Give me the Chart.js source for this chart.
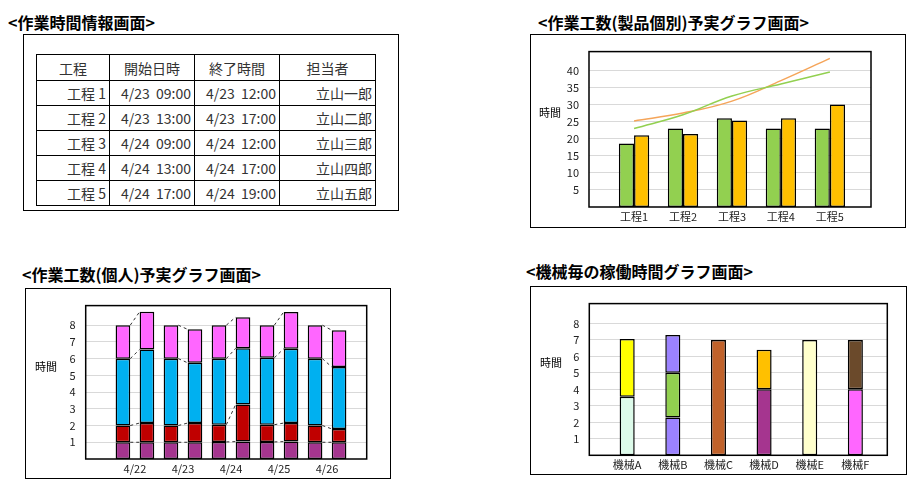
<!DOCTYPE html>
<html>
<head>
<meta charset="utf-8">
<script src="https://cdn.jsdelivr.net/npm/chart.js@4"></script>
<style>
  body { margin: 0; width: 920px; height: 494px; background: #fff; position: relative; overflow: hidden;
         font-family: "Noto Sans CJK JP", "Noto Sans", sans-serif; color: #000; }
  .title { position: absolute; font-size: 16px; font-weight: bold; line-height: 20px; white-space: nowrap; }
  .box { position: absolute; border: 1px solid #000; box-sizing: border-box; }
  .box canvas { position: absolute; left: 0; top: 0; }
  .ylab { position: absolute; font-size: 11px; }
  table { position: absolute; left: 36px; top: 54px; border-collapse: collapse; font-size: 14px; color: #333; }
  td, th { border: 1.5px solid #000; height: 24px; padding: 0 3px; font-weight: normal; white-space: pre; }
  th { text-align: center; height: 25px; }
  td { text-align: right; }
</style>
</head>
<body>
<div class="title" style="left:8px;top:12px">&lt;作業時間情報画面&gt;</div>
<div class="box" style="left:23px;top:34px;width:376px;height:177px"></div>
<table id="tbl"></table>

<div class="title" style="left:538px;top:12px">&lt;作業工数(製品個別)予実グラフ画面&gt;</div>
<div class="box" style="left:530px;top:34px;width:376px;height:194px"><canvas id="c1"></canvas></div>
<div class="ylab" style="left:539px;top:104px">時間</div>

<div class="title" style="left:22px;top:264px">&lt;作業工数(個人)予実グラフ画面&gt;</div>
<div class="box" style="left:25px;top:288px;width:366px;height:191px"><canvas id="c2"></canvas></div>
<div class="ylab" style="left:35px;top:358px">時間</div>

<div class="title" style="left:526px;top:261px">&lt;機械毎の稼働時間グラフ画面&gt;</div>
<div class="box" style="left:530px;top:286px;width:377px;height:189px"><canvas id="c3"></canvas></div>
<div class="ylab" style="left:540px;top:354px">時間</div>

<script>
// ---- table data
const tableHead = ["工程", "開始日時", "終了時間", "担当者"];
const processNames = ["工程 1", "工程 2", "工程 3", "工程 4", "工程 5"];
const startTimes = ["4/23  09:00", "4/23  13:00", "4/24  09:00", "4/24  13:00", "4/24  17:00"];
const endTimes = ["4/23  12:00", "4/23  17:00", "4/24  12:00", "4/24  17:00", "4/24  19:00"];
const workers = ["立山一郎", "立山二郎", "立山三郎", "立山四郎", "立山五郎"];

// ---- chart 1: per product
const products = ["工程1", "工程2", "工程3", "工程4", "工程5"];
const planHours = [18.6, 23, 26, 23, 23];
const actualHours = [21, 21.4, 25.3, 26, 30];
const planTrend = [23, 27, 32.5, 36, 39.5];
const actualTrend = [25.2, 27.5, 31, 37, 43.5];

// ---- chart 2: per person (plan / actual alternating)
const dates = ["4/22", "4/23", "4/24", "4/25", "4/26"];
const segPurple = [1, 1, 1, 1, 1.02, 1.04, 1.02, 1.04, 1, 1];
const segRed = [1, 1.15, 1, 1.15, 1.03, 2.22, 1.03, 1.11, 1, 0.8];
const segBlue = [4, 4.4, 4, 3.6, 3.95, 3.36, 4, 4.44, 4, 3.7];
const segPink = [2, 2.25, 2, 2, 2, 1.86, 1.95, 2.2, 2, 2.2];

// ---- chart 3: per machine
const machines = ["機械A", "機械B", "機械C", "機械D", "機械E", "機械F"];
const layer1 = [3.55, 2.3, 7, 4, 7, 4];
const layer2 = [3.5, 2.7, null, 2.4, null, 3];
const layer3 = [null, 2.3, null, null, null, null];
const layer1Colors = ["#DDFBEA", "#9B82FF", "#C0622B", "#A5358F", "#FFFFCC", "#FF66FF"];
const layer2Colors = ["#FFFF00", "#92D050", "#C0622B", "#FFC000", "#FFFFCC", "#6B4A2B"];
const layer3Colors = ["#9B82FF", "#9B82FF", "#9B82FF", "#9B82FF", "#9B82FF", "#9B82FF"];

// build table
const tbl = document.getElementById("tbl");
const widths = [73, 85, 85, 96];
tbl.innerHTML = "<tr>" + tableHead.map((h, i) => `<th style="width:${widths[i] - 7}px">${h}</th>`).join("") + "</tr>" +
  processNames.map((p, i) => `<tr><td>${p}</td><td>${startTimes[i]}</td><td>${endTimes[i]}</td><td>${workers[i]}</td></tr>`).join("");

Chart.defaults.font.family = '"Noto Sans CJK JP", "Noto Sans", sans-serif';
Chart.defaults.color = "#222";
Chart.defaults.animation = false;

const frame = {
  id: "frame",
  afterDraw(chart) {
    const a = chart.chartArea, ctx = chart.ctx;
    ctx.save();
    ctx.strokeStyle = "#000";
    ctx.lineWidth = 1.5;
    ctx.strokeRect(a.left, a.top, a.right - a.left, a.bottom - a.top);
    ctx.restore();
  }
};

function setup(id, w, h) {
  const c = document.getElementById(id);
  c.width = w; c.height = h;
  c.style.width = w + "px"; c.style.height = h + "px";
  return c;
}

function scales(opt) {
  return {
    x: {
      type: "linear", min: opt.xmin, max: opt.xmax, stacked: opt.stacked, offset: false,
      grid: { display: false, drawTicks: false }, border: { display: false },
      afterBuildTicks: s => { s.ticks = opt.tickPos.map(v => ({ value: v })); },
      afterFit: s => { s.height = opt.xh; },
      ticks: { font: { size: 11 }, color: "#222", maxRotation: 0, autoSkip: false, padding: 3,
               callback: (v) => opt.tickLabels[opt.tickPos.indexOf(v)] }
    },
    y: {
      min: 0, max: opt.ymax, stacked: opt.stacked,
      grid: { color: "#d9d9d9", lineWidth: 1, drawTicks: false }, border: { display: false },
      afterBuildTicks: s => { s.ticks = opt.yticks.map(v => ({ value: v })); },
      afterFit: s => { s.width = opt.yw; },
      ticks: { font: { size: 11 }, color: "#222", padding: 10 }
    }
  };
}

// chart 1
setup("c1", 374, 192);
const xy = (arr) => arr.map((v, i) => ({ x: i, y: v }));
new Chart("c1", {
  data: {
    datasets: [
      { type: "line", data: xy(planTrend), borderColor: "#92D050", borderWidth: 1.5, pointRadius: 0, tension: 0.4 },
      { type: "line", data: xy(actualTrend), borderColor: "#F5A55A", borderWidth: 1.5, pointRadius: 0, tension: 0.4 },
      { type: "bar", data: xy(planHours), backgroundColor: "#92D050", borderColor: "#000", borderWidth: 1.5,
        borderSkipped: false, categoryPercentage: 0.62, barPercentage: 1 },
      { type: "bar", data: xy(actualHours), backgroundColor: "#FFC000", borderColor: "#000", borderWidth: 1.5,
        borderSkipped: false, categoryPercentage: 0.62, barPercentage: 1 }
    ]
  },
  options: {
    responsive: false,
    layout: { padding: { top: 5, right: 34, left: 0, bottom: 0 } },
    plugins: { legend: { display: false }, tooltip: { enabled: false } },
    scales: scales({ xmin: -0.92, xmax: 4.84, stacked: false, tickPos: [0, 1, 2, 3, 4], tickLabels: products,
                     xh: 20, yw: 58, ymax: 45.5, yticks: [5, 10, 15, 20, 25, 30, 35, 40] })
  },
  plugins: [frame]
});

// chart 2
setup("c2", 364, 189);
const connectors = {
  id: "connectors",
  afterDatasetsDraw(chart) {
    const ctx = chart.ctx;
    ctx.save();
    ctx.strokeStyle = "#333"; ctx.lineWidth = 1; ctx.setLineDash([3, 3]);
    chart.data.datasets.forEach((d, di) => {
      const els = chart.getDatasetMeta(di).data;
      for (let i = 0; i + 1 < els.length; i += 2) {
        const a = els[i], b = els[i + 1];
        ctx.beginPath();
        ctx.moveTo(a.x + a.width / 2, a.y);
        ctx.lineTo(b.x - b.width / 2, b.y);
        ctx.stroke();
      }
    });
    ctx.restore();
  }
};
const seg2 = (arr, color) => ({ type: "bar", data: xy(arr), backgroundColor: color, borderColor: "#000",
  borderWidth: 1.5, borderSkipped: false, categoryPercentage: 1, barPercentage: 0.61 });
new Chart("c2", {
  data: { datasets: [seg2(segPurple, "#A5358F"), seg2(segRed, "#C00000"), seg2(segBlue, "#00B0F0"), seg2(segPink, "#FF66FF")] },
  options: {
    responsive: false,
    layout: { padding: { top: 3.3, right: 23.3, left: 0, bottom: 0 } },
    plugins: { legend: { display: false }, tooltip: { enabled: false } },
    scales: scales({ xmin: -1.55, xmax: 10.15, stacked: true, tickPos: [0.5, 2.5, 4.5, 6.5, 8.5], tickLabels: dates,
                     xh: 19, yw: 59.7, ymax: 9.17, yticks: [1, 2, 3, 4, 5, 6, 7, 8] })
  },
  plugins: [frame, connectors]
});

// chart 3
setup("c3", 375, 187);
const seg3 = (arr, colors) => ({ type: "bar", data: xy(arr), backgroundColor: colors, borderColor: "#000",
  borderWidth: 1.5, borderSkipped: false, categoryPercentage: 1, barPercentage: 0.33 });
new Chart("c3", {
  data: { datasets: [seg3(layer1, layer1Colors), seg3(layer2, layer2Colors), seg3(layer3, layer3Colors)] },
  options: {
    responsive: false,
    layout: { padding: { top: 1.3, right: 18.7, left: 0, bottom: 0 } },
    plugins: { legend: { display: false }, tooltip: { enabled: false } },
    scales: scales({ xmin: -0.83, xmax: 5.7, stacked: true, tickPos: [0, 1, 2, 3, 4, 5], tickLabels: machines,
                     xh: 18.7, yw: 58.3, ymax: 9.2, yticks: [1, 2, 3, 4, 5, 6, 7, 8] })
  },
  plugins: [frame]
});
</script>
</body>
</html>
